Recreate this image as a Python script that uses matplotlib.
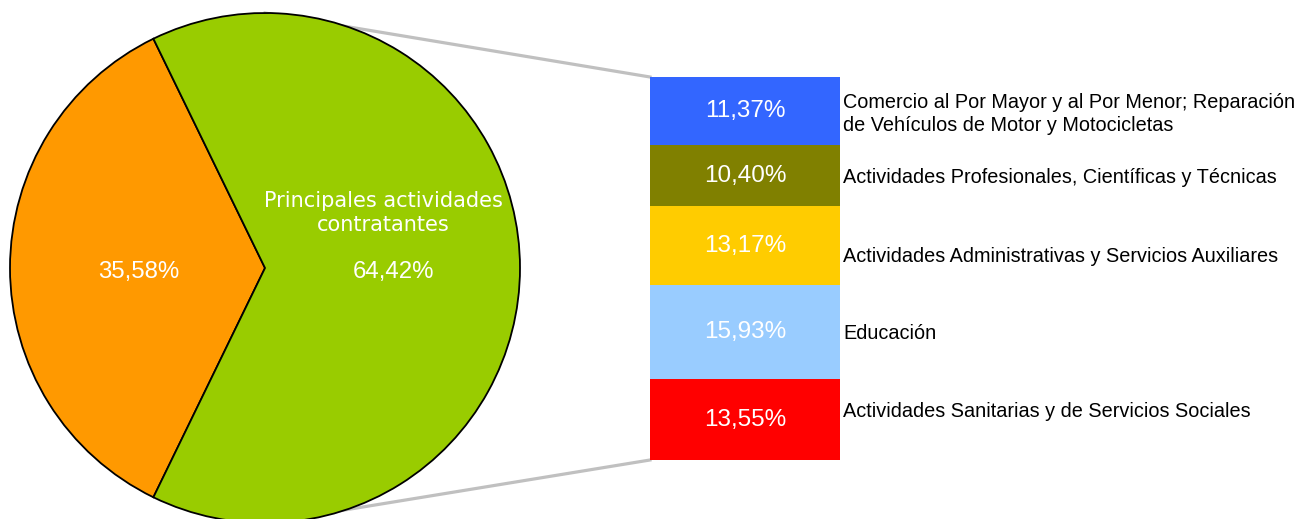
import matplotlib.pyplot as plt
import numpy as np

# datos
pie_vals = [35.58, 64.42]
pie_colors = ['#FF9900', '#99CC00']
pie_label = 'Principales actividades\ncontratantes'

bar_labels = ['Comercio al Por Mayor y al Por Menor; Reparación\nde Vehículos de Motor y Motocicletas',
              'Actividades Profesionales, Científicas y Técnicas',
              'Actividades Administrativas y Servicios Auxiliares',
              'Educación',
              'Actividades Sanitarias y de Servicios Sociales']
bar_vals = [11.37, 10.40, 13.17, 15.93, 13.55]
bar_colors = ['#3366FF', '#808000', '#FFCC00', '#99CCFF', '#FF0000']
# desplazamiento vertical de las etiquetas (px)
lab_off = [-3, -2, -11, -1, 8]

def fmt(v):
    return ('%.2f%%' % v).replace('.', ',')

W, H = 1301, 519
fig = plt.figure(figsize=(W/100, H/100), dpi=100)
ax = fig.add_axes([0, 0, 1, 1])

cx, cy, R = 265, 251, 255
start = 180 - pie_vals[0]*3.6/2
wedges, texts, autotexts = ax.pie(pie_vals, colors=pie_colors, center=(cx, cy), radius=R,
                                  startangle=start, autopct=lambda p: fmt(p), pctdistance=0.5,
                                  wedgeprops=dict(edgecolor='black', linewidth=1.3),
                                  textprops=dict(color='white', fontsize=17.3, family='Liberation Sans'),
                                  frame=True)
for w in wedges:
    w.set_zorder(3)
for t in autotexts:
    t.set_zorder(4)
    x0, y0 = t.get_position()
    t.set_position((x0 + 1, y0 - 4))
ax.set_xlim(0, W)
ax.set_ylim(0, H)
ax.set_aspect('equal')
ax.axis('off')
gx, gy = autotexts[1].get_position()
ax.text(gx - 10, gy + 59, pie_label, color='white', fontsize=15, ha='center', va='center',
        linespacing=1.2, zorder=4)

# barra apilada
bx, bw = 745, 190
bar_top, bar_bot = 442, 59
scale = (bar_top - bar_bot) / sum(bar_vals)
tops = bar_top - np.concatenate([[0], np.cumsum(bar_vals)[:-1]]) * scale
heights = np.array(bar_vals) * scale
bottoms = tops - heights
ax.bar(bx, heights, bottom=bottoms, width=bw, color=bar_colors, linewidth=0, zorder=2)
for i in range(len(bar_vals)):
    mid = bottoms[i] + heights[i]/2
    ax.text(bx, mid, fmt(bar_vals[i]), color='white', fontsize=17.5, family='Liberation Sans',
            ha='center', va='center', zorder=4)
    ax.text(bx + bw/2 + 3, mid + lab_off[i], bar_labels[i], color='black', fontsize=14.3,
            family='Liberation Sans', ha='left', va='center', linespacing=1.3)

# líneas de conexión
ax.plot([cx, bx - bw/2], [cy + R, bar_top], color='#C0C0C0', lw=2.3, zorder=1)
ax.plot([cx, bx - bw/2], [cy - R, bar_bot], color='#C0C0C0', lw=2.3, zorder=1)

fig.savefig('out.png', dpi=100)
